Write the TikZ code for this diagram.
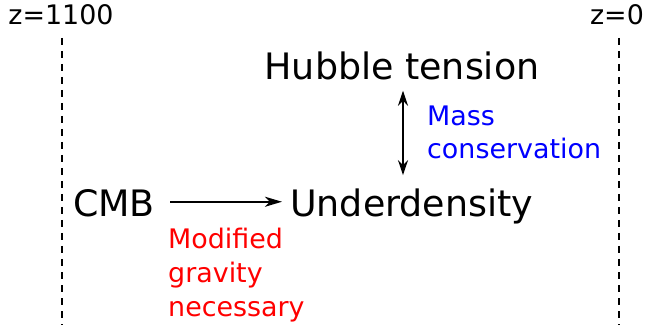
\documentclass[tikz,border=0pt]{standalone}
\usepackage{fontspec}
\setmainfont{DejaVu Sans}
\usetikzlibrary{arrows.meta,positioning}

\begin{document}
\begin{tikzpicture}[
			x=1pt,
			y=-1pt,
			big label/.style={font=\fontsize{36.4}{40}\selectfont, inner sep=0pt},
			note label/.style={font=\fontsize{26.9}{33.5}\selectfont, align=left, inner sep=0pt},
			epoch label/.style={font=\fontsize{26.9}{30}\selectfont, inner sep=0pt},
			epoch line/.style={line width=2.5pt, dash pattern=on 7pt off 6pt},
			link/.style={line width=2.2pt, -{Stealth[length=17pt, width=10pt, inset=5pt]}}
		]
		\useasboundingbox (0,0) rectangle (648,331);

		% redshift markers
		\node[epoch label, anchor=base] (zhigh) at (61,25) {z=1100};
		\node[epoch label, anchor=base] (zlow) at (617,25) {z=0};
		\draw[epoch line] (62,38) -- (62,325);
		\draw[epoch line] (619,38) -- (619,325);

		% main quantities
		\node[big label, anchor=base] (cmb) at (114,217) {CMB};
		\node[big label, anchor=base west] (under) at (290,217) {Underdensity};
		\node[big label, anchor=base] (hubble) at (402,80) {Hubble tension};

		\draw[link, shorten <=15pt, shorten >=8pt] ([yshift=2pt]cmb.east) -- ([yshift=2pt]cmb.east -| under.west);
		\draw[link, {Stealth[length=15pt, width=10pt, inset=5pt]}-{Stealth[length=15pt, width=10pt, inset=5pt]}, shorten <=10pt, shorten >=14pt]
			([xshift=1pt]hubble.south) -- ([xshift=1pt]hubble.south |- under.north);

		% explanations
		\node[note label, text=blue, anchor=base west] (mass) at (427,159) {Mass\\conservation};
		\node[note label, text=red, anchor=base west] (modgrav) at (168,316) {Modified\\gravity\\necessary};
	\end{tikzpicture}
\end{document}
